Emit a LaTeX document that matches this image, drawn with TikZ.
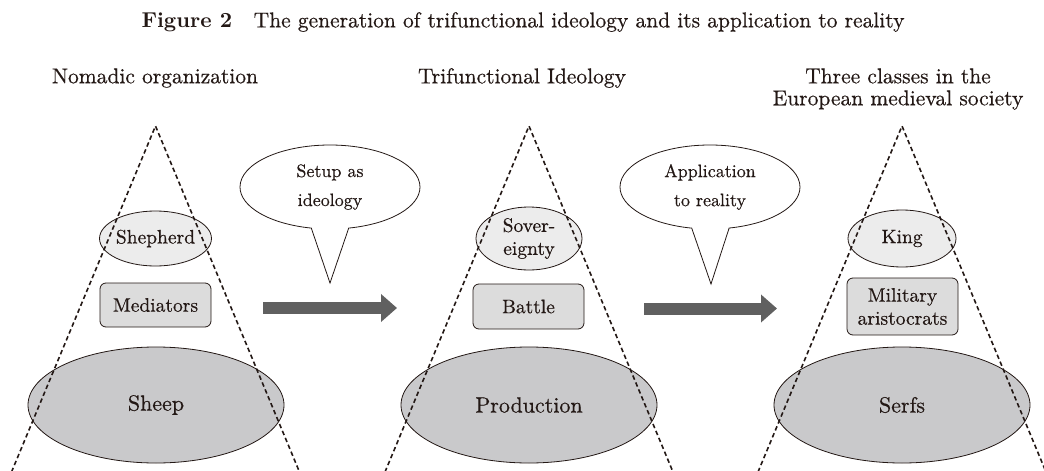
\documentclass[tikz,border=0pt]{standalone}
\usepackage{fontspec}
\setmainfont{lmroman10-regular.otf}[
  BoldFont=lmroman10-bold.otf,
  UprightFeatures={FakeBold=0.5}]
\usetikzlibrary{shapes.geometric,shapes.callouts,arrows.meta}
\definecolor{ink}{HTML}{231815}
\definecolor{lightfill}{HTML}{ECECEC}
\definecolor{boxfill}{HTML}{DCDCDC}
\definecolor{basefill}{HTML}{C9C9CB}
\definecolor{arrowgray}{HTML}{606060}
\definecolor{basegray}{HTML}{C4C4C4}
\begin{document}
\begin{tikzpicture}[x=1pt,y=-1pt,
  every node/.style={text=ink, inner sep=0pt, align=center},
  topoval/.style={ellipse, draw=ink, line width=0.8pt, fill=lightfill,
    font=\fontsize{19.5}{23}\selectfont},
  midbox/.style={rectangle, rounded corners=6pt, draw=ink, line width=0.8pt,
    fill=boxfill, minimum width=111pt, font=\fontsize{19.5}{23}\selectfont},
  bigoval/.style={ellipse, draw=ink, line width=0.8pt, fill=basefill,
    minimum width=256pt, minimum height=116pt, font=\fontsize{22}{26}\selectfont},
  bubble/.style={ellipse callout, draw=ink, line width=0.8pt, fill=white,
    minimum width=180pt, minimum height=84pt, callout pointer arc=24,
    font=\fontsize{18}{29}\selectfont},
  heading/.style={font=\fontsize{21.5}{22}\selectfont},
  side/.style={draw=ink, line width=1.6pt, dash pattern=on 4.5pt off 3pt},
  baseline/.style={draw=basegray, line width=0.9pt, dash pattern=on 5pt off 3pt},
  bigarrow/.style={draw=arrowgray, line width=12pt,
    -{Triangle[length=16pt,width=27pt]}}
]
\useasboundingbox (0,0) rectangle (1044,471);

% caption and column headings
\node[heading] (title) at (523,22)
  {\textbf{Figure 2}\quad The generation of trifunctional ideology and its application to reality};
\node[heading] (hA) at (155,78) {Nomadic organization};
\node[heading] (hB) at (522,78) {Trifunctional Ideology};
\node[heading] (hC) at (898,89) {Three classes in the\\European medieval society};

% left pyramid: nomadic organization
\node[topoval, minimum width=107pt, minimum height=55pt] (shep) at (155.5,238.5) {Shepherd};
\node[midbox, minimum height=44pt] (med) at (155.5,305) {Mediators};
\node[bigoval] (sheep) at (156,405) {Sheep};

% middle pyramid: trifunctional ideology
\node[topoval, minimum width=106pt, minimum height=63pt] (sov) at (529,238.5) {Sover-\\eignty};
\node[midbox, minimum height=45pt] (bat) at (528.5,306.5) {Battle};
\node[bigoval] (prod) at (529,405) {Production};

% right pyramid: medieval society
\node[topoval, minimum width=108pt, minimum height=57pt] (king) at (902,238.5) {King};
\node[midbox, minimum height=57pt] (mil) at (902.5,306.5) {Military\\aristocrats};
\node[bigoval] (serf) at (902,405) {Serfs};

% dashed pyramid outlines
\foreach \n/\cx in {A/155.5, B/529, C/902}{
  \coordinate (apex\n) at (\cx,126);
  \coordinate (bl\n) at (\cx-144,472);
  \coordinate (br\n) at (\cx+144,472);
  \draw[baseline] ([yshift=-2pt]bl\n) -- ([yshift=-2pt]br\n);
  \draw[side] (bl\n) -- (apex\n) -- (br\n);
}

% speech bubbles
\coordinate (tipA) at (330,283);
\coordinate (tipB) at (711,284);
\node[bubble, callout absolute pointer={(tipA)}] (bubA) at (330,187) {Setup as\\ideology};
\node[bubble, callout absolute pointer={(tipB)}] (bubB) at (710,187) {Application\\to reality};

% transition arrows
\coordinate (a1s) at (263,308);
\coordinate (a1e) at (397,308);
\coordinate (a2s) at (644,308.5);
\coordinate (a2e) at (777,308.5);
\draw[bigarrow] (a1s) -- (a1e);
\draw[bigarrow] (a2s) -- (a2e);
\end{tikzpicture}
\end{document}
